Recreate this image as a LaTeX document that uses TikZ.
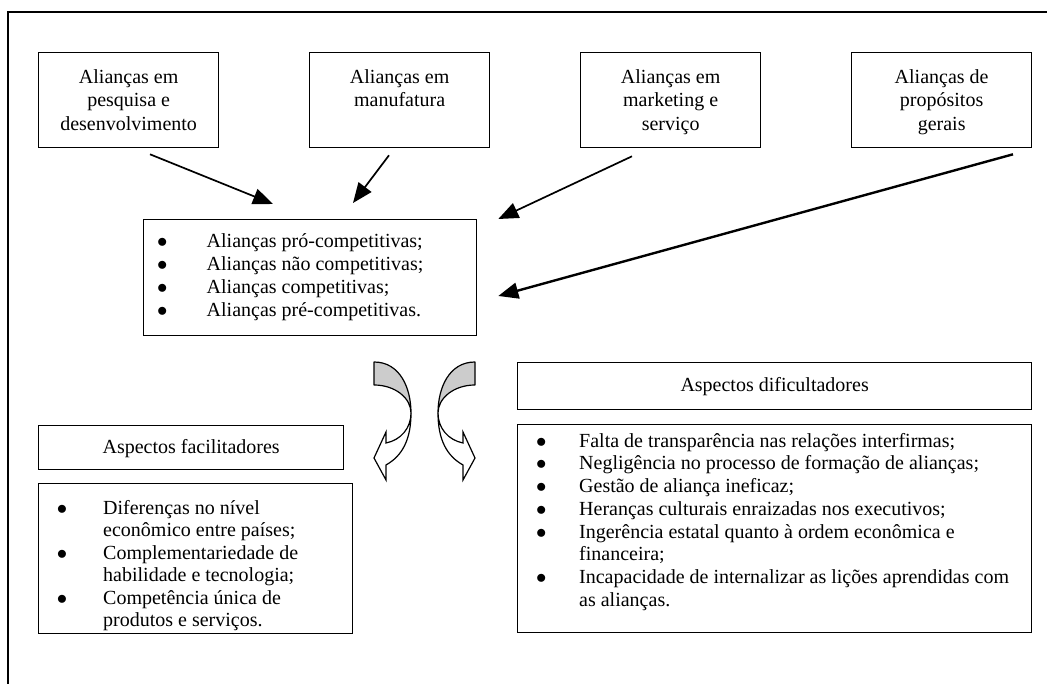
\documentclass[tikz,border=0pt]{standalone}
\usepackage{fontspec}
\setmainfont{Liberation Serif}
\usetikzlibrary{arrows.meta,calc}
% first-line strut and bullet helpers
\newcommand\fl{\rule{0pt}{15pt}}
\newcommand\bul[1]{\makebox[#1][l]{$\bullet$}}
\newcommand\ind[1]{\hspace*{#1}}
\begin{document}
\begin{tikzpicture}[x=1pt,y=-1pt,
  box/.style={draw,line width=1.3pt,rectangle,inner sep=0pt,anchor=north west},
  txt/.style={inner sep=0pt,anchor=north,align=center,font=\fontsize{20}{23.5}\selectfont},
  lst/.style={inner sep=0pt,anchor=north west,align=left,font=\fontsize{20}{#1}\selectfont},
  arr/.style={line width=1.7pt,-{Triangle[length=20pt,width=16pt]}},
  back/.style={draw,line width=1.2pt,fill=gray!40,line join=round},
  front/.style={draw,line width=1.2pt,fill=white,line join=miter}]
\useasboundingbox (0,0) rectangle (1047,684);

% outer frame (top and left edges)
\draw[line width=1.3pt] (1047,12) -- (8,12) -- (8,684);

% four alliance types
\node[box,minimum width=180pt,minimum height=95pt] (b1) at (38,52) {};
\node[box,minimum width=180pt,minimum height=95pt] (b2) at (309,52) {};
\node[box,minimum width=180pt,minimum height=95pt] (b3) at (580,52) {};
\node[box,minimum width=180pt,minimum height=95pt] (b4) at (851,52) {};
\node[txt] (t1) at ($(b1.north)+(0,16)$) {\fl Alianças em\\pesquisa e\\desenvolvimento};
\node[txt] (t2) at ($(b2.north)+(0,16)$) {\fl Alianças em\\manufatura};
\node[txt] (t3) at ($(b3.north)+(0,16)$) {\fl Alianças em\\marketing e\\serviço};
\node[txt] (t4) at ($(b4.north)+(0,16)$) {\fl Alianças de\\propósitos\\gerais};

% central list of alliance kinds
\node[box,minimum width=333pt,minimum height=116pt] (c) at (143,219) {};
\node[lst=23.2] (ct) at (157,232) {\fl\bul{49.5pt}Alianças pró-competitivas;\\
  \bul{49.5pt}Alianças não competitivas;\\
  \bul{49.5pt}Alianças competitivas;\\
  \bul{49.5pt}Alianças pré-competitivas.};

% arrows into the central list
\coordinate (s1) at ($(b1.south west)+(112,6)$);
\coordinate (e1) at ($(c.north west)+(130,-15)$);
\coordinate (s2) at ($(b2.south west)+(80,7)$);
\coordinate (e2) at ($(c.north west)+(210,-16)$);
\coordinate (s3) at ($(b3.south west)+(52,8)$);
\coordinate (e3) at ($(c.north east)+(21,0)$);
\coordinate (s4) at ($(b4.south west)+(162,6)$);
\coordinate (e4) at ($(c.north east)+(21,77)$);
\draw[arr] (s1) -- (e1);
\draw[arr] (s2) -- (e2);
\draw[arr] (s3) -- (e3);
\draw[arr,line width=2.4pt] (s4) -- (e4);

% curved twisted arrows
\begin{scope}
  \path[back] (374,362) -- (374,385) .. controls (395,385) and (411,398) .. (411,413)
     .. controls (411,388) and (400,362) .. (374,362) -- cycle;
  \path[front] (411,413) .. controls (411,428) and (401,440) .. (386,443)
     -- (386,432) -- (374,458) -- (386,480) -- (386,465)
     .. controls (402,456) and (411,440) .. (411,413) -- cycle;
\end{scope}
\begin{scope}[shift={(849,0)},xscale=-1]
  \path[back] (374,362) -- (374,385) .. controls (395,385) and (411,398) .. (411,413)
     .. controls (411,388) and (400,362) .. (374,362) -- cycle;
  \path[front] (411,413) .. controls (411,428) and (401,440) .. (386,443)
     -- (386,432) -- (374,458) -- (386,480) -- (386,465)
     .. controls (402,456) and (411,440) .. (411,413) -- cycle;
\end{scope}

% facilitating aspects
\node[box,minimum width=305pt,minimum height=44pt] (fh) at (38,425) {};
\node[txt] (fht) at ($(fh.north)+(0,13)$) {\fl Aspectos facilitadores};
\node[box,minimum width=314pt,minimum height=150pt] (fb) at (38,483) {};
\node[lst=22.5] (fbt) at (56.7,499) {\fl\bul{46.3pt}Diferenças no nível\\
  \ind{46.3pt}econômico entre países;\\
  \bul{46.3pt}Complementariedade de\\
  \ind{46.3pt}habilidade e tecnologia;\\
  \bul{46.3pt}Competência única de\\
  \ind{46.3pt}produtos e serviços.};

% hindering aspects
\node[box,minimum width=514pt,minimum height=47pt] (dh) at (517,362) {};
\node[txt] (dht) at ($(dh.north)+(0,14)$) {\fl Aspectos dificultadores};
\node[box,minimum width=514pt,minimum height=208pt] (db) at (517,424) {};
\node[lst=22.7] (dbt) at (536,432) {\fl\bul{43pt}Falta de transparência nas relações interfirmas;\\
  \bul{43pt}Negligência no processo de formação de alianças;\\
  \bul{43pt}Gestão de aliança ineficaz;\\
  \bul{43pt}Heranças culturais enraizadas nos executivos;\\
  \bul{43pt}Ingerência estatal quanto à ordem econômica e\\
  \ind{43pt}financeira;\\
  \bul{43pt}Incapacidade de internalizar as lições aprendidas com\\
  \ind{43pt}as alianças.};
\end{tikzpicture}
\end{document}
